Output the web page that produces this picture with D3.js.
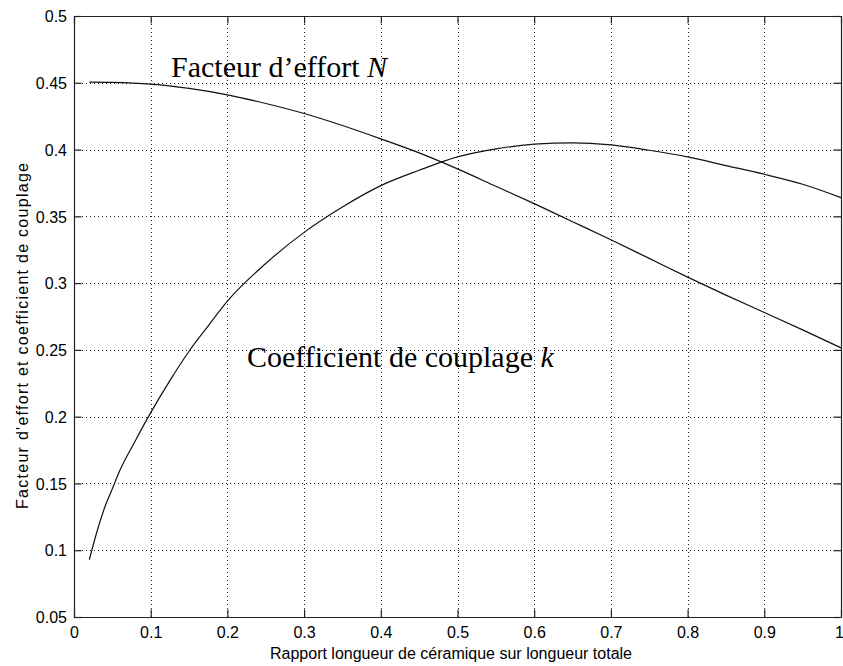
<!DOCTYPE html>
<html>
<head>
<meta charset="utf-8">
<script src="https://cdn.jsdelivr.net/npm/d3@7"></script>
<style>
  body { margin: 0; background: #fff; }
  svg { display: block; }
  .tick text { font-family: Arial, "Liberation Sans", sans-serif; font-size: 16px; fill: #000; }
</style>
</head>
<body>
<svg id="chart" width="843" height="666"></svg>
<script>
// Ceramic length ratio (abscissa) and the two curves
const ratioN = [0.02, 0.05, 0.1, 0.15, 0.2, 0.25, 0.3, 0.35, 0.4, 0.45, 0.5,
                0.55, 0.6, 0.65, 0.7, 0.75, 0.8, 0.85, 0.9, 0.95, 1.0];
const effortN = [0.4505, 0.4503, 0.449, 0.4458, 0.441, 0.4345, 0.427, 0.418, 0.408, 0.3975, 0.3855,
                 0.3725, 0.3595, 0.346, 0.3325, 0.3185, 0.3045, 0.291, 0.278, 0.265, 0.2515];

const ratioK = [0.02, 0.03, 0.04, 0.05, 0.06, 0.08, 0.1, 0.125, 0.15, 0.175, 0.2, 0.25, 0.3, 0.35,
                0.4, 0.45, 0.5, 0.55, 0.6, 0.65, 0.7, 0.75, 0.8, 0.85, 0.9, 0.95, 1.0];
const couplingK = [0.093, 0.114, 0.132, 0.146, 0.160, 0.182, 0.203, 0.227, 0.249, 0.268, 0.2865, 0.3147, 0.338, 0.357,
                   0.373, 0.3845, 0.3945, 0.4005, 0.404, 0.405, 0.4035, 0.3995, 0.3945, 0.388, 0.3815, 0.374, 0.364];

const xTickValues = [0, 0.1, 0.2, 0.3, 0.4, 0.5, 0.6, 0.7, 0.8, 0.9, 1];
const xTickLabels = ["0", "0.1", "0.2", "0.3", "0.4", "0.5", "0.6", "0.7", "0.8", "0.9", "1"];
const yTickValues = [0.05, 0.1, 0.15, 0.2, 0.25, 0.3, 0.35, 0.4, 0.45, 0.5];
const yTickLabels = ["0.05", "0.1", "0.15", "0.2", "0.25", "0.3", "0.35", "0.4", "0.45", "0.5"];

const plot = { left: 74, right: 841, top: 16, bottom: 617 };
const tickLen = 7.5;

const svg = d3.select("#chart");
const x = d3.scaleLinear().domain([0, 1]).range([plot.left, plot.right]);
const y = d3.scaleLinear().domain([0.05, 0.5]).range([plot.bottom, plot.top]);

// dotted grid
const grid = svg.append("g").attr("stroke", "#222").attr("stroke-width", 1)
  .attr("stroke-dasharray", "1,3");
grid.selectAll("line.gx").data(xTickValues.slice(1, -1)).join("line")
  .attr("x1", d => Math.round(x(d)) + 0.5).attr("x2", d => Math.round(x(d)) + 0.5)
  .attr("y1", plot.top).attr("y2", plot.bottom);
grid.selectAll("line.gy").data(yTickValues.slice(1, -1)).join("line")
  .attr("y1", d => Math.round(y(d)) + 0.5).attr("y2", d => Math.round(y(d)) + 0.5)
  .attr("x1", plot.left).attr("x2", plot.right);

// axes with inward ticks on all four sides
const fmtX = (d, i) => xTickLabels[i];
const fmtY = (d, i) => yTickLabels[i];

function styleAxis(g) {
  g.select(".domain").attr("stroke", "#222").attr("stroke-width", 1.2);
  g.selectAll(".tick line").attr("stroke", "#222").attr("stroke-width", 1.2);
}

const bottomAxis = svg.append("g").attr("transform", `translate(0,${plot.bottom})`)
  .call(d3.axisBottom(x).tickValues(xTickValues).tickFormat(fmtX)
    .tickSizeInner(-tickLen).tickSizeOuter(0).tickPadding(9.5))
  .call(styleAxis).attr("font-family", null).attr("font-size", null);
// keep the last label ("1") inside the frame
bottomAxis.selectAll(".tick text").filter(d => d === 1).attr("dx", -2);

svg.append("g").attr("transform", `translate(0,${plot.top})`)
  .call(d3.axisTop(x).tickValues(xTickValues).tickFormat("")
    .tickSizeInner(-tickLen).tickSizeOuter(0))
  .call(styleAxis);

svg.append("g").attr("transform", `translate(${plot.left},0)`)
  .call(d3.axisLeft(y).tickValues(yTickValues).tickFormat(fmtY)
    .tickSizeInner(-tickLen).tickSizeOuter(0).tickPadding(7))
  .call(styleAxis).attr("font-family", null).attr("font-size", null)
  .selectAll(".tick text").attr("dy", "0.36em");

svg.append("g").attr("transform", `translate(${plot.right},0)`)
  .call(d3.axisRight(y).tickValues(yTickValues).tickFormat("")
    .tickSizeInner(-tickLen).tickSizeOuter(0))
  .call(styleAxis);

// curves
const line = d3.line().x(d => x(d[0])).y(d => y(d[1])).curve(d3.curveMonotoneX);
svg.append("path").datum(ratioN.map((r, i) => [r, effortN[i]]))
  .attr("d", line).attr("fill", "none").attr("stroke", "#111").attr("stroke-width", 1.2);
svg.append("path").datum(ratioK.map((r, i) => [r, couplingK[i]]))
  .attr("d", line).attr("fill", "none").attr("stroke", "#111").attr("stroke-width", 1.2);

// curve annotations
const serif = "'Liberation Serif', 'Times New Roman', Times, serif";
const tN = svg.append("text").attr("x", 171).attr("y", 77)
  .attr("font-family", serif).attr("font-size", 30);
tN.append("tspan").text("Facteur d\u2019effort ");
tN.append("tspan").attr("font-style", "italic").text("N");

const tK = svg.append("text").attr("x", 247).attr("y", 367)
  .attr("font-family", serif).attr("font-size", 30);
tK.append("tspan").text("Coefficient de couplage ");
tK.append("tspan").attr("font-style", "italic").text("k");

// axis titles
const sans = "Arial, 'Liberation Sans', sans-serif";
svg.append("text").attr("x", 451).attr("y", 659).attr("text-anchor", "middle")
  .attr("font-family", sans).attr("font-size", 16)
  .text("Rapport longueur de c\u00e9ramique sur longueur totale");
svg.append("text").attr("transform", "translate(28,336) rotate(-90)")
  .attr("text-anchor", "middle").attr("font-family", sans).attr("font-size", 16)
  .attr("textLength", 346).attr("lengthAdjust", "spacing")
  .text("Facteur d'effort et coefficient de couplage");
</script>
</body>
</html>
